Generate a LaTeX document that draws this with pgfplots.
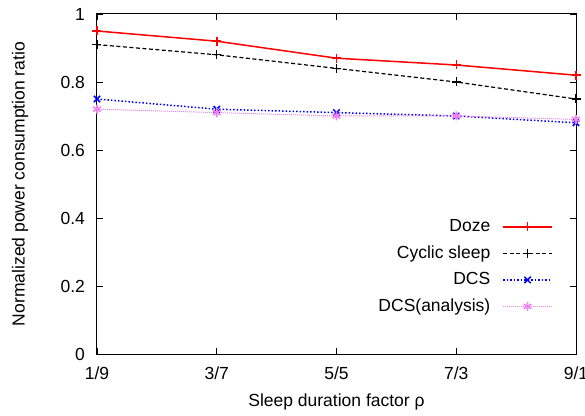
\documentclass[border=0pt]{standalone}
\usepackage{fontspec}
\setmainfont{Liberation Sans}
\usepackage{pgfplots}
\pgfplotsset{compat=1.18}
\definecolor{dcsa}{RGB}{238,130,238}
\begin{document}
\fontsize{17.5}{20}\selectfont
\begin{tikzpicture}
\useasboundingbox (-97pt,-61pt) rectangle (488pt,354pt);
\begin{axis}[
  at={(0,0)}, anchor=south west,
  scale only axis, width=479pt, height=340pt,
  xmin=0, xmax=4, ymin=0, ymax=1,
  xtick={0,1,2,3,4}, xticklabels={1/9,3/7,5/5,7/3,9/1},
  ytick={0,0.2,0.4,0.6,0.8,1},
  yticklabels={0,0.2,0.4,0.6,0.8,1},
  tick pos=both, tick align=inside,
  major tick length=6pt,
  tick style={line width=0.8pt, black},
  /pgf/number format/assume math mode=true,
  tick label style={font=\fontsize{17.5}{20}\selectfont},
  xticklabel style={anchor=base, yshift=-25pt},
  yticklabel style={xshift=-6pt},
  every axis x label/.style={at={(rel axis cs:0.5,0)}, anchor=center, yshift=-48pt},
  every axis y label/.style={at={(rel axis cs:0,0.5)}, anchor=center, xshift=-77pt, rotate=90},
  label style={font=\fontsize{17.5}{20}\selectfont},
  xlabel={Sleep duration factor ρ},
  ylabel={Normalized power consumption ratio},
  axis line style={line width=1pt},
  legend style={draw=none, fill=none, at={(rel axis cs:0.952,0.402)}, anchor=north east,
    font=\fontsize{17.5}{20}\selectfont, row sep=7.5pt, column sep=10pt, inner sep=0pt,
    nodes={inner sep=2pt}},
  legend cell align=right,
  legend plot pos=right,
  legend image code/.code={\draw[mark repeat=2,mark phase=2] plot coordinates {(0pt,0pt)(24.5pt,0pt)(49pt,0pt)};},
]
\addplot[red, line width=1.5pt, mark=+, mark size=4.5pt, mark options={solid}] coordinates {(0,0.95)(1,0.92)(2,0.87)(3,0.85)(4,0.82)};
\addlegendentry{Doze}
\addplot[black, line width=1.2pt, dash pattern=on 4pt off 2.5pt, mark=+, mark size=4.5pt, mark options={solid}] coordinates {(0,0.91)(1,0.88)(2,0.84)(3,0.80)(4,0.75)};
\addlegendentry{Cyclic sleep}
\addplot[blue, line width=1.5pt, dash pattern=on 1.5pt off 2pt, mark=x, mark size=4.5pt, mark options={solid}] coordinates {(0,0.75)(1,0.72)(2,0.71)(3,0.70)(4,0.68)};
\addlegendentry{DCS}
\addplot[dcsa, line width=1pt, dash pattern=on 1pt off 1pt, mark=asterisk, mark size=4.5pt, mark options={solid, line width=1.6pt}] coordinates {(0,0.72)(1,0.71)(2,0.70)(3,0.70)(4,0.69)};
\addlegendentry{DCS(analysis)}
\end{axis}
\end{tikzpicture}
\end{document}
